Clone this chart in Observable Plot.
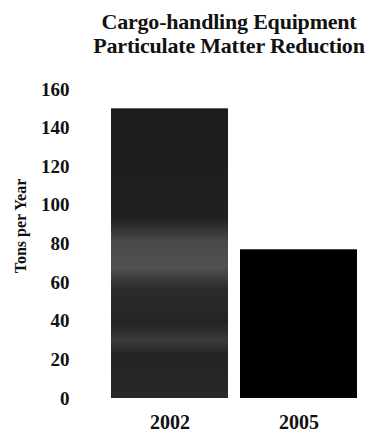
<!DOCTYPE html>
<html>
<head>
<meta charset="utf-8">
<script src="https://cdn.jsdelivr.net/npm/d3@7"></script>
<script src="https://cdn.jsdelivr.net/npm/@observablehq/plot@0.6"></script>
<style>
  html, body { margin: 0; padding: 0; background: #fff; }
  #title {
    width: 378px; box-sizing: border-box; padding: 10px 0 0 80px; margin: 0;
    height: 54px; text-align: center;
    font-family: "Liberation Serif", serif; font-size: 22px; font-weight: bold; line-height: 24px; color: #111;
    letter-spacing: -0.2px;
  }
</style>
</head>
<body>
<div id="title">Cargo-handling Equipment<br>Particulate Matter Reduction</div>
<div id="chart"></div>
<script>
const years = ["2002", "2005"];
const tons = [150, 77];
const yTicks = [0, 20, 40, 60, 80, 100, 120, 140, 160];
const barFills = ["url(#speckle2002)", "#000000"];

const data = years.map((y, i) => ({year: y, tons: tons[i], fill: barFills[i]}));

const chart = Plot.plot({
  width: 378,
  height: 386,
  marginLeft: 105,
  marginRight: 14,
  marginTop: 35,
  marginBottom: 42,
  style: {fontFamily: "Liberation Serif, serif", background: "#fff", color: "#111"},
  x: {domain: years, paddingInner: 0.093, paddingOuter: 0.046, label: null},
  y: {domain: [0, 160], ticks: yTicks, label: null},
  marks: [
    Plot.barY(data, {x: "year", y: "tons", fill: d => d.fill}),
    Plot.axisY({ticks: yTicks, tickSize: 0, tickPadding: 36, fontSize: 19, fontWeight: "bold", label: null}),
    Plot.axisX({tickSize: 0, tickPadding: 16, fontSize: 20, fontWeight: "bold", label: null}),
    Plot.text(["Tons per Year"], {frameAnchor: "left", textAnchor: "middle", dx: -85, dy: -18, rotate: -90, fontSize: 16, fontWeight: "bold", fill: "#111"})
  ]
});

// gradient approximating the speckled grey texture of the 2002 bar
const svg = d3.select(chart);
const defs = svg.insert("defs", ":first-child");
const g = defs.append("linearGradient").attr("id", "speckle2002").attr("x1", 0).attr("y1", 0).attr("x2", 0).attr("y2", 1);
[[0, "#1c1c1c"], [0.38, "#202020"], [0.46, "#4a4a4a"], [0.55, "#505050"], [0.62, "#2c2c2c"], [0.74, "#242424"], [0.8, "#3a3a3a"], [0.85, "#242424"], [1, "#282828"]]
  .forEach(([o, c]) => g.append("stop").attr("offset", o).attr("stop-color", c));

document.getElementById("chart").appendChild(chart);
</script>
</body>
</html>
